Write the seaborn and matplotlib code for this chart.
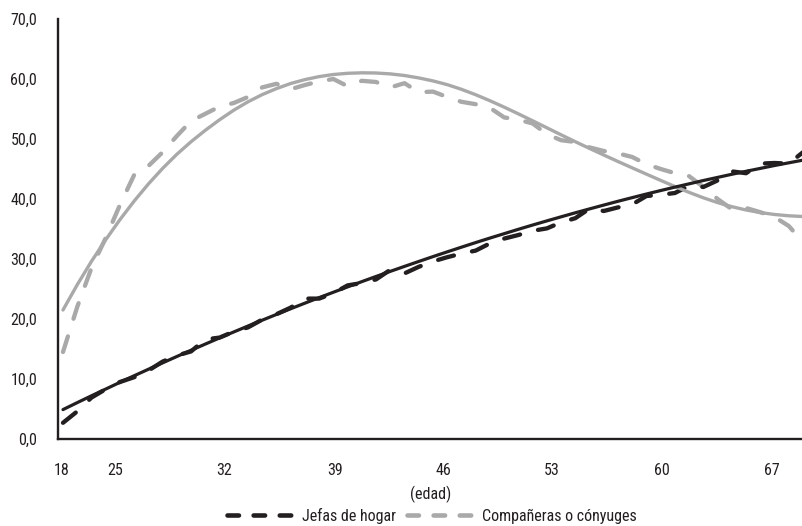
import matplotlib
matplotlib.use("Agg")
import matplotlib.pyplot as plt
from matplotlib.lines import Line2D
from matplotlib.ticker import FixedLocator, FuncFormatter
from matplotlib import font_manager as fm
import numpy as np
import pandas as pd
import seaborn as sns

# Edades (un valor por año)
edad = list(range(18, 71))

# Jefas de hogar: serie observada y tendencia
jefas = [2.7, 4.6, 6.9, 8.3, 9.5, 10.3, 11.4, 12.9, 13.9, 14.6,
         16.6, 16.9, 17.9, 18.6, 19.9, 20.8, 21.9, 23.4, 23.4, 24.3,
         25.6, 26.0, 26.6, 28.2, 27.6, 28.7, 29.6, 30.3, 30.9, 31.4,
         32.6, 33.4, 34.0, 34.7, 35.1, 36.1, 36.8, 38.4, 38.0, 38.6,
         39.1, 40.5, 40.7, 41.0, 42.2, 42.0, 43.1, 44.6, 44.3, 45.9,
         46.0, 45.9, 47.8]
jefas_tend = [4.9, 6.06, 7.2, 8.32, 9.44, 10.54, 11.62, 12.69, 13.75, 14.79,
              15.82, 16.84, 17.84, 18.83, 19.8, 20.76, 21.71, 22.64, 23.56, 24.46,
              25.35, 26.23, 27.09, 27.94, 28.77, 29.59, 30.4, 31.19, 31.97, 32.74,
              33.49, 34.22, 34.95, 35.66, 36.35, 37.03, 37.7, 38.35, 38.99, 39.62,
              40.23, 40.83, 41.41, 41.98, 42.53, 43.08, 43.6, 44.12, 44.62, 45.1,
              45.58, 46.03, 46.48]

# Compañeras o cónyuges: serie observada y tendencia
conyuges = [14.5, 22.0, 28.5, 33.5, 39.0, 44.0, 45.5, 47.8, 50.5, 53.0,
            54.2, 55.4, 56.0, 57.0, 58.6, 59.2, 58.3, 59.0, 59.6, 60.0,
            58.8, 59.7, 59.5, 58.6, 59.3, 57.8, 57.9, 57.0, 56.2, 55.8,
            55.2, 53.6, 53.2, 52.6, 50.8, 49.8, 49.5, 48.6, 48.0, 47.6,
            47.0, 45.8, 45.0, 44.3, 43.8, 42.0, 40.0, 38.3, 38.5, 37.8,
            37.0, 35.5, 32.8]
conyuges_tend = [21.5, 25.7, 29.6, 33.2, 36.55, 39.65, 42.5, 45.1, 47.45, 49.55,
                 51.45, 53.2, 54.8, 56.2, 57.4, 58.4, 59.25, 59.9, 60.4, 60.75,
                 60.95, 61.03, 61.0, 60.85, 60.58, 60.18, 59.68, 59.06, 58.28, 57.38,
                 56.38, 55.31, 54.19, 53.04, 51.87, 50.7, 49.55, 48.43, 47.33, 46.25,
                 45.19, 44.14, 43.1, 42.08, 41.1, 40.2, 39.4, 38.72, 38.17, 37.74,
                 37.42, 37.2, 37.08]

etiquetas_x = ["18", "25", "32", "39", "46", "53", "60", "67"]
etiquetas_y = [0, 10, 20, 30, 40, 50, 60, 70]

df = pd.DataFrame({
    "edad": edad,
    "jefas": jefas,
    "jefas_tend": jefas_tend,
    "conyuges": conyuges,
    "conyuges_tend": conyuges_tend,
})

NEGRO = "#231f20"
GRIS = "#a9a9a9"

sns.set_style("white")
preferidas = ["Liberation Sans Narrow", "Arial Narrow", "Roboto Condensed",
              "Archivo Narrow", "PT Sans Narrow", "Pragati Narrow",
              "Open Sans Condensed"]
instaladas = {f.name for f in fm.fontManager.ttflist}
familias = [f for f in preferidas if f in instaladas] + ["DejaVu Sans"]
plt.rcParams["font.family"] = familias

fig = plt.figure(figsize=(8.03, 5.26), dpi=100)
ax = fig.add_axes([58 / 803, 87 / 526, 745 / 803, 420 / 526])

dash = (3.8, 4.3)
sns.lineplot(data=df, x="edad", y="conyuges", ax=ax, color=GRIS, linewidth=3.1,
             dashes=dash, dash_capstyle="round", legend=False)
sns.lineplot(data=df, x="edad", y="jefas", ax=ax, color=NEGRO, linewidth=3.1,
             dashes=dash, dash_capstyle="round", legend=False)
sns.lineplot(data=df, x="edad", y="conyuges_tend", ax=ax, color=GRIS,
             linewidth=2.4, legend=False)
sns.lineplot(data=df, x="edad", y="jefas_tend", ax=ax, color=NEGRO,
             linewidth=2.3, legend=False)

ax.set_xlim(17.65, 70.0)
ax.set_ylim(0, 70)

# Eje vertical
ax.set_yticks(etiquetas_y)
ax.yaxis.set_major_formatter(FuncFormatter(lambda v, p: f"{v:.1f}".replace(".", ",")))
ax.tick_params(axis="y", direction="in", length=7.5, width=1.6, color=NEGRO,
               pad=15, labelsize=11.5, labelcolor=NEGRO)

# Eje horizontal: etiquetas cada 7 años y marcas cada 4 años
pos_etiquetas = [17.93, 21.66, 29.32, 37.12, 44.71, 52.37, 60.10, 67.83]
ax.xaxis.set_major_locator(FixedLocator(pos_etiquetas))
ax.set_xticklabels(etiquetas_x)
ax.xaxis.set_minor_locator(FixedLocator(np.arange(17.65, 70.0, 4.0)))
ax.tick_params(axis="x", which="major", length=0, pad=17, labelsize=11.5,
               labelcolor=NEGRO)
ax.tick_params(axis="x", which="minor", direction="in", length=3, width=1.8,
               color=NEGRO)

ax.set_xlabel("(edad)", fontsize=11.5, color=NEGRO, labelpad=6)
ax.set_ylabel("")

for lado in ["top", "right"]:
    ax.spines[lado].set_visible(False)
for lado in ["left", "bottom"]:
    ax.spines[lado].set_color(NEGRO)
    ax.spines[lado].set_linewidth(1.7)

handles = [
    Line2D([], [], color=NEGRO, linewidth=3.3, dashes=(2.5, 3.2), dash_capstyle="round"),
    Line2D([], [], color=GRIS, linewidth=3.3, dashes=(2.5, 3.2), dash_capstyle="round"),
]
fig.legend(handles, ["Jefas de hogar", "Compañeras o cónyuges"],
           loc="center", bbox_to_anchor=(432 / 803, 1 - 516 / 526), ncol=2,
           frameon=False, fontsize=11.5, handlelength=4.1, handletextpad=0.6,
           columnspacing=0.7, labelcolor=NEGRO)

fig.savefig("out.png", dpi=100)
